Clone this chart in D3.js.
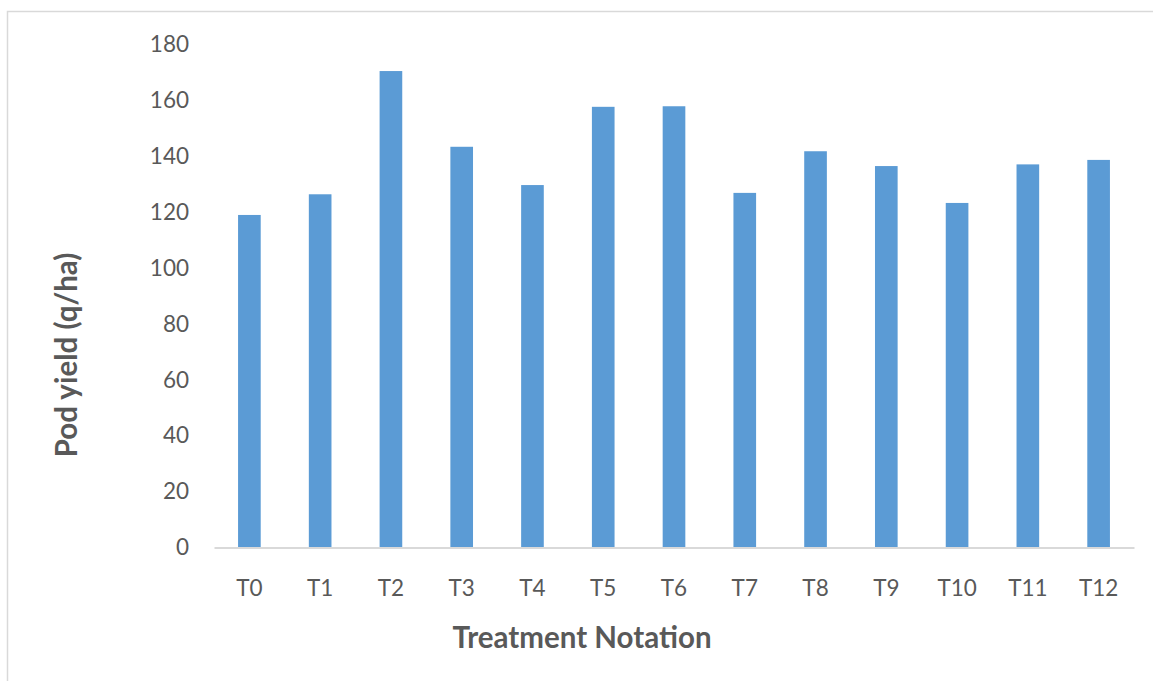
<!DOCTYPE html>
<html>
<head>
<meta charset="utf-8">
<script src="https://cdn.jsdelivr.net/npm/d3@7"></script>
<style>
  body { margin: 0; background: #fff; }
  text { font-family: Lato, "Open Sans", sans-serif; fill: #595959; }
</style>
</head>
<body>
<div id="chart"></div>
<script>
// values
const treatments = ['T0', 'T1', 'T2', 'T3', 'T4', 'T5', 'T6', 'T7', 'T8', 'T9', 'T10', 'T11', 'T12'];
const podYield = [119.0, 126.4, 170.5, 143.4, 129.7, 157.7, 157.9, 126.9, 141.8, 136.5, 123.3, 137.1, 138.7];
const yTicks = [0, 20, 40, 60, 80, 100, 120, 140, 160, 180];

const W = 1153, H = 681;
const margin = {top: 44.5, right: 19, bottom: 133.5, left: 214};
const width = W - margin.left - margin.right;
const height = H - margin.top - margin.bottom;

const svg = d3.select('#chart').append('svg')
    .attr('width', W)
    .attr('height', H);

// chart frame
svg.append('rect')
    .attr('x', 7.5).attr('y', 11.5)
    .attr('width', W + 20).attr('height', H + 20)
    .attr('fill', '#fff')
    .attr('stroke', '#d9d9d9')
    .attr('stroke-width', 1.5);

const g = svg.append('g').attr('transform', 'translate(' + margin.left + ',' + margin.top + ')');

const x = d3.scaleBand().domain(treatments).range([0, width])
    .paddingInner(0.68).paddingOuter(0.34);
const y = d3.scaleLinear().domain([0, 180]).range([height, 0]);

g.selectAll('rect.bar')
    .data(podYield)
    .enter().append('rect')
    .attr('class', 'bar')
    .attr('x', (d, i) => x(treatments[i]))
    .attr('y', d => y(d))
    .attr('width', x.bandwidth())
    .attr('height', d => height - y(d))
    .attr('fill', '#5b9bd5');

// x axis
const xAxis = g.append('g')
    .attr('transform', 'translate(0,' + height + ')')
    .call(d3.axisBottom(x).tickSize(0).tickPadding(33));
xAxis.select('.domain').attr('stroke', '#d9d9d9').attr('stroke-width', 2);
xAxis.selectAll('text').attr('font-size', 22.5).attr('fill', '#595959');

// y axis
const yAxis = g.append('g')
    .call(d3.axisLeft(y).tickValues(yTicks).tickSize(0).tickPadding(25));
yAxis.select('.domain').remove();
yAxis.selectAll('text').attr('font-size', 22.5).attr('fill', '#595959');

svg.selectAll('.tick text').attr('font-family', 'Lato, "Open Sans", sans-serif');

// axis titles
svg.append('text')
    .attr('x', 582).attr('y', 648)
    .attr('text-anchor', 'middle')
    .attr('font-size', 29.5)
    .attr('font-weight', 'bold')
    .text('Treatment Notation');

svg.append('text')
    .attr('transform', 'translate(77,355) rotate(-90)')
    .attr('text-anchor', 'middle')
    .attr('font-size', 29.5)
    .attr('font-weight', 'bold')
    .text('Pod yield (q/ha)');
</script>
</body>
</html>
